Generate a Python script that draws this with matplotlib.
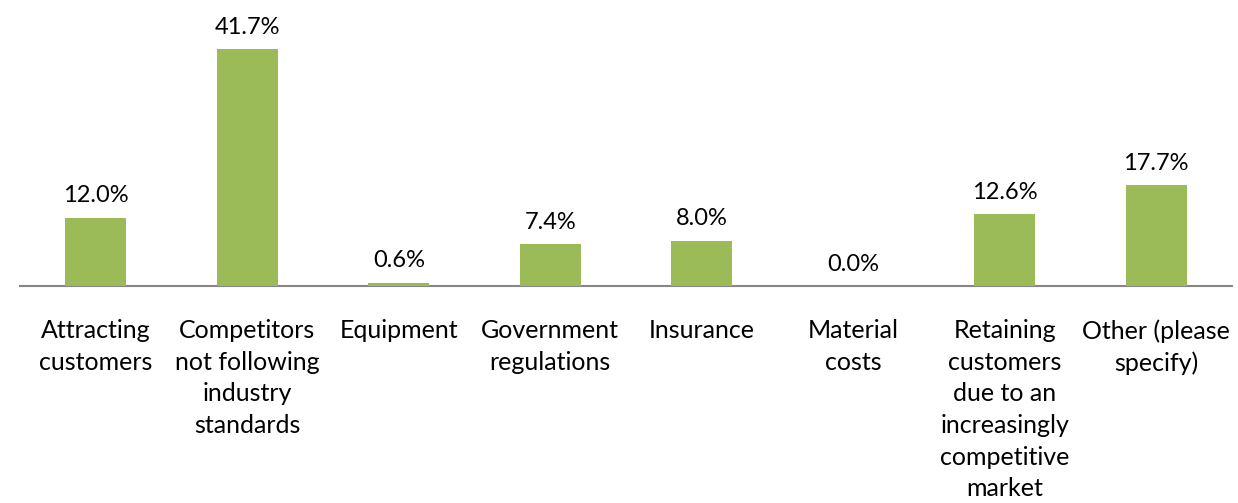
import matplotlib
matplotlib.use("Agg")
import matplotlib.pyplot as plt
from matplotlib import rcParams

GREEN = "#9BBB59"; INK = "#000000"; AXIS = "#868686"
rcParams["font.family"] = ["Lato", "DejaVu Sans"]

categories = [
    "Attracting\ncustomers",
    "Competitors\nnot following\nindustry\nstandards",
    "Equipment",
    "Government\nregulations",
    "Insurance",
    "Material\ncosts",
    "Retaining\ncustomers\ndue to an\nincreasingly\ncompetitive\nmarket",
    "Other (please\nspecify)",
]
values = [12.0, 41.7, 0.6, 7.4, 8.0, 0.0, 12.6, 17.7]

fig = plt.figure(figsize=(12.38, 5.03), dpi=100)
ax = fig.add_axes([20/1238, (503-286)/503, 1212/1238, 286/503])

x = list(range(len(values)))
bars = ax.bar(x, values, width=0.4, color=GREEN, zorder=3)
for b, v in zip(bars, values):
    ax.text(b.get_x() + b.get_width()/2, v + 2.0, f"{v:.1f}%",
            ha="center", va="bottom", fontsize=17, color=INK)

ax.set_xlim(-0.5, len(values) - 0.5)
ax.set_ylim(0, 50.3)
ax.set_xticks(x)
ax.set_xticklabels(categories, fontsize=18, color=INK, linespacing=1.45, va="top")
ax.tick_params(axis="x", length=0, pad=24)
ax.set_yticks([])
for s in ["top", "right", "left"]:
    ax.spines[s].set_visible(False)
ax.spines["bottom"].set_color(AXIS)
ax.spines["bottom"].set_linewidth(1.5)

fig.savefig("out.png", dpi=100)
